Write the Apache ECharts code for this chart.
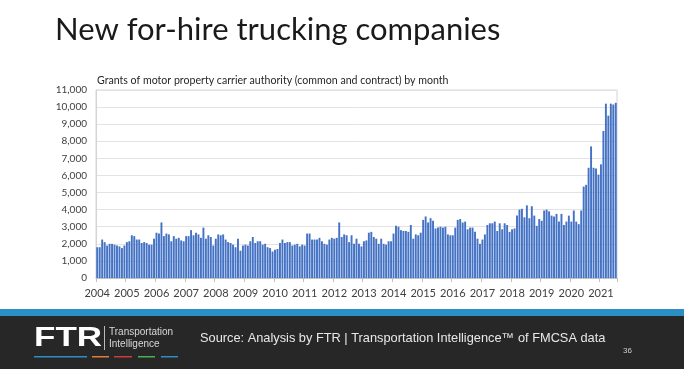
<!DOCTYPE html>
<html><head><meta charset="utf-8">
<script src="https://cdn.jsdelivr.net/npm/echarts@6/dist/echarts.min.js"></script>
<style>html,body{margin:0;padding:0;background:#fff}#c{width:684px;height:369px}</style>
</head><body><div id="c"></div>
<script>
const years = [2004,2005,2006,2007,2008,2009,2010,2011,2012,2013,2014,2015,2016,2017,2018,2019,2020,2021];
const y2004 = [1800,1800,2250,2100,1900,2000,2000,1950,1900,1850,1750,1900];
const y2005 = [2100,2150,2500,2450,2250,2250,2050,2100,2050,1950,1950,2300];
const y2006 = [2650,2600,3250,2450,2600,2550,2150,2450,2300,2350,2200,2150];
const y2007 = [2450,2450,2800,2500,2650,2550,2350,2950,2300,2500,2400,1900];
const y2008 = [2300,2550,2500,2550,2250,2100,2050,1950,1800,2300,1600,1900];
const y2009 = [1950,1900,2150,2400,2050,2150,2150,1950,2000,1800,1750,1550];
const y2010 = [1650,1700,2050,2250,2050,2100,2100,1900,1950,2000,1850,1950];
const y2011 = [1900,2600,2600,2250,2250,2250,2350,2150,2000,1950,2250,2350];
const y2012 = [2300,2350,3250,2400,2550,2500,2100,2500,2000,2300,2000,1850];
const y2013 = [2150,2200,2650,2700,2400,2300,2000,2300,2000,1950,2150,2150];
const y2014 = [2600,3050,3000,2800,2750,2750,2700,3100,2300,2550,2500,2650];
const y2015 = [3400,3600,3250,3500,3350,2900,2950,3000,2950,3000,2550,2500];
const y2016 = [2500,2950,3400,3450,3250,3300,2850,2950,2950,2700,2300,2000];
const y2017 = [2250,2550,3100,3200,3200,3300,2750,3200,2850,3200,3100,2700];
const y2018 = [2850,2900,3650,4000,4050,3550,4250,3500,4200,3650,3050,3450];
const y2019 = [3350,3950,4000,3900,3650,3600,3750,3300,3750,3100,3300,3650];
const y2020 = [3300,3950,3300,3150,3950,5350,5450,6450,7700,6450,6400,6050];
const y2021 = [6650,8600,10200,9500,10200,10150,10250];
const yTicks = [0,1000,2000,3000,4000,5000,6000,7000,8000,9000,10000,11000];
const titleText = 'New for-hire trucking companies';
const subtitleText = 'Grants of motor property carrier authority (common and contract) by month';
const sourceText = 'Source: Analysis by FTR | Transportation Intelligence\u2122 of FMCSA data';
const pageNo = '36';

const yearly = [y2004,y2005,y2006,y2007,y2008,y2009,y2010,y2011,y2012,y2013,y2014,y2015,y2016,y2017,y2018,y2019,y2020,y2021];
const cats = [], vals = [];
yearly.forEach((arr, yi) => arr.forEach((v, m) => { cats.push(years[yi] + '-' + String(m + 1).padStart(2, '0')); vals.push(v); }));

const chart = echarts.init(document.getElementById('c'));
chart.setOption({
  animation: false,
  backgroundColor: '#ffffff',
  title: [
    { text: titleText, left: 50, top: 9, textStyle: { fontFamily: 'Lato', fontWeight: 'normal', fontSize: 31, color: '#1a1a1a' } },
    { text: subtitleText, left: 92, top: 70, textStyle: { fontFamily: 'Lato', fontWeight: 'normal', fontSize: 10.6, color: '#262626' } }
  ],
  grid: { left: 96, right: 67, top: 90, bottom: 91, show: true, borderColor: '#d4d4d4', borderWidth: 1 },
  xAxis: {
    type: 'category', data: cats, boundaryGap: true,
    axisLine: { lineStyle: { color: '#bfbfbf' } },
    axisTick: { show: true, interval: (i) => i % 12 === 0, length: 4, lineStyle: { color: '#bfbfbf' } },
    axisLabel: { interval: (i) => i % 12 === 0, formatter: (v) => v.slice(0, 4), fontFamily: 'Lato', fontSize: 11, color: '#404040', margin: 10 }
  },
  yAxis: {
    type: 'value', min: yTicks[0], max: yTicks[yTicks.length - 1], interval: 1000,
    axisLine: { show: true, lineStyle: { color: '#d4d4d4' } },
    axisTick: { show: false },
    splitLine: { lineStyle: { color: '#e3e3e3' } },
    axisLabel: { formatter: (v) => v.toLocaleString('en-US'), fontFamily: 'Lato', fontSize: 10, color: '#404040', margin: 9 }
  },
  series: [{ type: 'bar', data: vals, barCategoryGap: '22%', itemStyle: { color: '#4472c4' } }],
  graphic: [
    { type: 'rect', shape: { x: 0, y: 309, width: 684, height: 7 }, style: { fill: '#2b8fc6' } },
    { type: 'rect', shape: { x: 0, y: 316, width: 684, height: 53 }, style: { fill: '#272727' } },
    { type: 'text', x: 34, y: 338, scaleX: 1.25, style: { text: 'FTR', fill: '#ffffff', font: '900 28px "Liberation Sans"', verticalAlign: 'middle' } },
    { type: 'rect', shape: { x: 104, y: 326, width: 1, height: 24 }, style: { fill: '#bbbbbb' } },
    { type: 'text', x: 109, y: 332, style: { text: 'Transportation', fill: '#d8d8d8', font: '10px "Liberation Sans Narrow", "Liberation Sans"', verticalAlign: 'middle' } },
    { type: 'text', x: 109, y: 344, style: { text: 'Intelligence', fill: '#d8d8d8', font: '10px "Liberation Sans Narrow", "Liberation Sans"', verticalAlign: 'middle' } },
    { type: 'rect', shape: { x: 34, y: 356, width: 53, height: 1.5 }, style: { fill: '#2b8fc6' } },
    { type: 'rect', shape: { x: 92, y: 356, width: 17, height: 1.5 }, style: { fill: '#e07b39' } },
    { type: 'rect', shape: { x: 114, y: 356, width: 18, height: 1.5 }, style: { fill: '#d03a3a' } },
    { type: 'rect', shape: { x: 138, y: 356, width: 17, height: 1.5 }, style: { fill: '#4caf50' } },
    { type: 'rect', shape: { x: 161, y: 356, width: 17, height: 1.5 }, style: { fill: '#2b8fc6' } },
    { type: 'text', x: 200, y: 338, style: { text: sourceText, fill: '#e8e8e8', font: '12.8px "Liberation Sans"', verticalAlign: 'middle' } },
    { type: 'text', x: 623, y: 351, style: { text: pageNo, fill: '#cccccc', font: '8px "Liberation Sans"', verticalAlign: 'middle' } }
  ]
});
</script></body></html>
